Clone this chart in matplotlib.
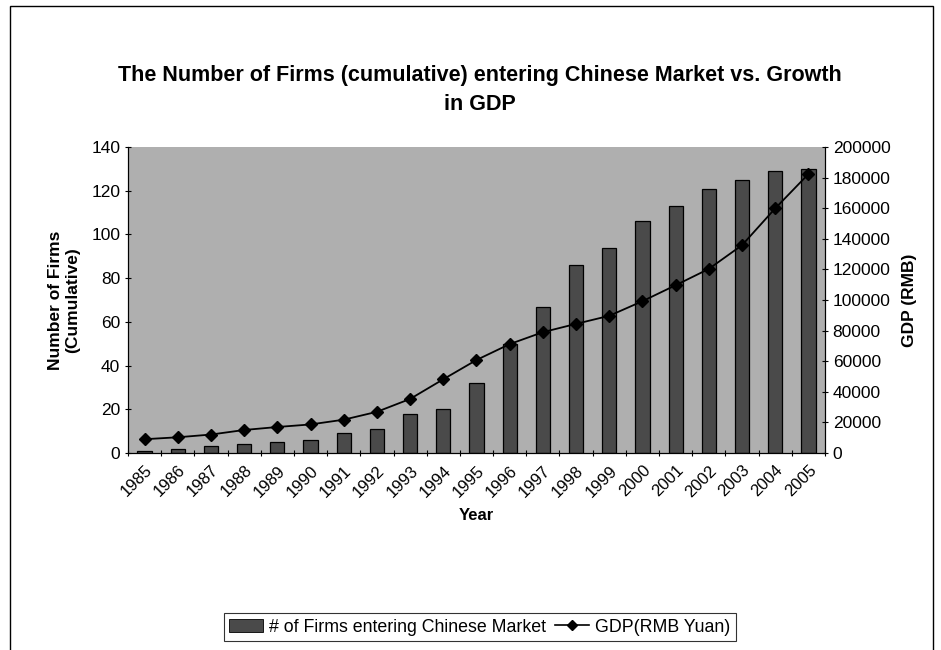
import matplotlib
matplotlib.use("Agg")
import matplotlib.pyplot as plt
from matplotlib.patches import Rectangle
from matplotlib.lines import Line2D
from matplotlib.patches import Patch
import numpy as np

years = ["1985", "1986", "1987", "1988", "1989", "1990", "1991", "1992", "1993", "1994",
         "1995", "1996", "1997", "1998", "1999", "2000", "2001", "2002", "2003", "2004", "2005"]
firms = [1, 2, 3, 4, 5, 6, 9, 11, 18, 20, 32, 50, 67, 86, 94, 106, 113, 121, 125, 129, 130]
gdp = [9016, 10275, 12059, 15043, 16992, 18668, 21781, 26923, 35334, 48198,
       60794, 71177, 78973, 84402, 89677, 99215, 109655, 120333, 135823, 159878, 182321]

plt.rcParams['font.family'] = ['Liberation Sans', 'DejaVu Sans']

W, H = 941, 650
fig = plt.figure(figsize=(W / 100, H / 100), dpi=100)
fig.patch.set_facecolor('white')

# outer chart border
fig.patches.append(Rectangle((10 / W, -0.05), (933 - 10) / W, 1.05 - 6 / H,
                             transform=fig.transFigure, fill=False,
                             edgecolor='black', linewidth=1.0))

ax = fig.add_axes([128 / W, 1 - 453 / H, (825 - 128) / W, (453 - 147) / H])
ax.set_facecolor('#afafaf')
x = np.arange(len(years))
ax.bar(x, firms, width=0.43, color='#4a4a4a', edgecolor='black', linewidth=0.9, zorder=2)
ax.set_xlim(-0.5, len(years) - 0.5)
ax.set_ylim(0, 140)
ax.set_yticks(np.arange(0, 141, 20))
ax.set_xticks(x)
ax.set_xticklabels(years, rotation=45, ha='right', rotation_mode='anchor', fontsize=12)
ax.set_xticks(np.arange(-0.5, len(years), 1), minor=True)
ax.tick_params(axis='x', which='major', length=0, pad=7)
ax.tick_params(axis='x', which='minor', length=5, direction='inout', width=0.8)
ax.tick_params(axis='y', labelsize=12.5, length=5, direction='inout', width=0.8, pad=3)
for s in ax.spines.values():
    s.set_linewidth(0.8)
ax.spines['top'].set_visible(False)
ax.set_xlabel('Year', fontsize=12, fontweight='bold', labelpad=6)
ax.set_ylabel('Number of Firms\n(Cumulative)', fontsize=12.5, fontweight='bold', labelpad=8)

ax2 = ax.twinx()
ax2.plot(x, gdp, color='black', linewidth=1.3, marker='D', markersize=6.5, zorder=3)
ax2.set_ylim(0, 200000)
ax2.set_yticks(np.arange(0, 200001, 20000))
ax2.tick_params(axis='y', labelsize=12.5, length=5, direction='inout', width=0.8, pad=3)
for s in ax2.spines.values():
    s.set_linewidth(0.8)
ax2.spines['top'].set_visible(False)
ax2.set_ylabel('GDP (RMB)', fontsize=12.5, fontweight='bold', labelpad=8)

fig.text(480 / W, 1 - 90 / H,
         'The Number of Firms (cumulative) entering Chinese Market vs. Growth\nin GDP',
         ha='center', va='center', fontsize=15.5, fontweight='bold', linespacing=1.45)

handles = [Patch(facecolor='#4a4a4a', edgecolor='black', linewidth=0.6),
           Line2D([0], [0], color='black', marker='D', markersize=5, linewidth=1.2)]
labels = ['# of Firms entering Chinese Market', 'GDP(RMB Yuan)']
leg = fig.legend(handles, labels, loc='center', bbox_to_anchor=(480 / W, 1 - 627 / H),
                 ncol=2, frameon=True, fancybox=False, edgecolor='black', fontsize=12.8,
                 handlelength=1.9, columnspacing=0.5, handletextpad=0.35,
                 borderpad=0.3)
leg.get_frame().set_linewidth(0.8)

fig.savefig('out.png', dpi=100)
